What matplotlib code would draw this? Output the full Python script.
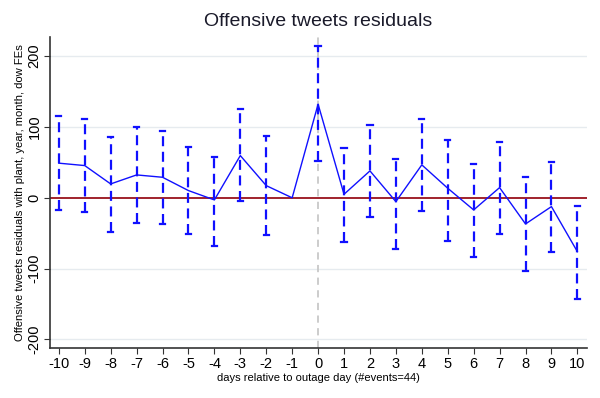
import numpy as np
import matplotlib
matplotlib.use("Agg")
import matplotlib.pyplot as plt

plt.rcParams['font.family'] = ['Liberation Sans', 'DejaVu Sans']
plt.rcParams['axes.unicode_minus'] = False

days = list(range(-10, 11))
coef = [48.9, 45.5, 19.6, 32.3, 29.0, 10.2, -3.0, 59.6, 17.2, 0.0,
        132.2, 5.0, 38.0, -5.4, 46.5, 13.5, -17.1, 14.4, -36.9, -12.4, -76.0]
ci_hi = [115.7, 111.0, 86.4, 100.0, 94.0, 72.3, 58.2, 125.0, 87.4, None,
         215.0, 70.5, 103.4, 55.0, 111.0, 82.2, 47.4, 79.4, 29.5, 51.1, -11.9]
ci_lo = [-17.1, -19.5, -48.2, -35.0, -36.9, -51.4, -67.5, -4.4, -52.0, None,
         52.5, -61.8, -26.5, -71.7, -18.0, -60.4, -83.0, -50.6, -103.0, -76.0, -142.8]
yticks = [-200, -100, 0, 100, 200]

fig = plt.figure(figsize=(6, 3.98), dpi=100)
ax = fig.add_axes([50/600, 1-347.7/398, (586.7-50)/600, (347.7-37)/398])

blue = '#1010ff'
for ytk in yticks:
    if ytk != 0:
        ax.axhline(ytk, color='#e6ebef', lw=1, zorder=0)
ax.axhline(0, color='#a0222c', lw=1.4, zorder=1)
ax.axvline(0, color='#c8c8c8', lw=1.3, ls=(0, (4, 3)), zorder=1)

for d, lo, hi in zip(days, ci_lo, ci_hi):
    if lo is None:
        continue
    ax.plot([d, d], [lo, hi], color=blue, lw=1.6, ls=(0, (4.5, 2.5)), zorder=2)
    ax.plot([d - 0.1, d + 0.1], [hi, hi], color=blue, lw=1.6, zorder=2)
    ax.plot([d - 0.1, d + 0.1], [lo, lo], color=blue, lw=1.6, zorder=2)

ax.plot(days, coef, color=blue, lw=1.0, zorder=3)

ax.set_xlim(-10.34, 10.36)
ax.set_ylim(-211.6, 227)
ax.set_xticks(days)
ax.set_yticks(yticks)
ax.tick_params(axis='x', labelsize=10.5, length=4, color='#333333', pad=3)
ax.tick_params(axis='y', labelsize=10.5, length=4, color='#333333', pad=2)
for lab in ax.get_yticklabels():
    lab.set_rotation(90)
    lab.set_va('center')
for s in ['top', 'right']:
    ax.spines[s].set_visible(False)
for s in ['left', 'bottom']:
    ax.spines[s].set_color('#333333')
    ax.spines[s].set_linewidth(1.2)

ax.set_xlabel('days relative to outage day (#events=44)', fontsize=8, labelpad=1)
ax.set_ylabel('Offensive tweets residuals with plant, year, month, dow FEs', fontsize=8.1, labelpad=2)
fig.text(318/600, 1-22/398, 'Offensive tweets residuals', fontsize=14, ha='center', va='center', color='#1a1a2a')

fig.savefig('out.png', dpi=100, facecolor='white')
